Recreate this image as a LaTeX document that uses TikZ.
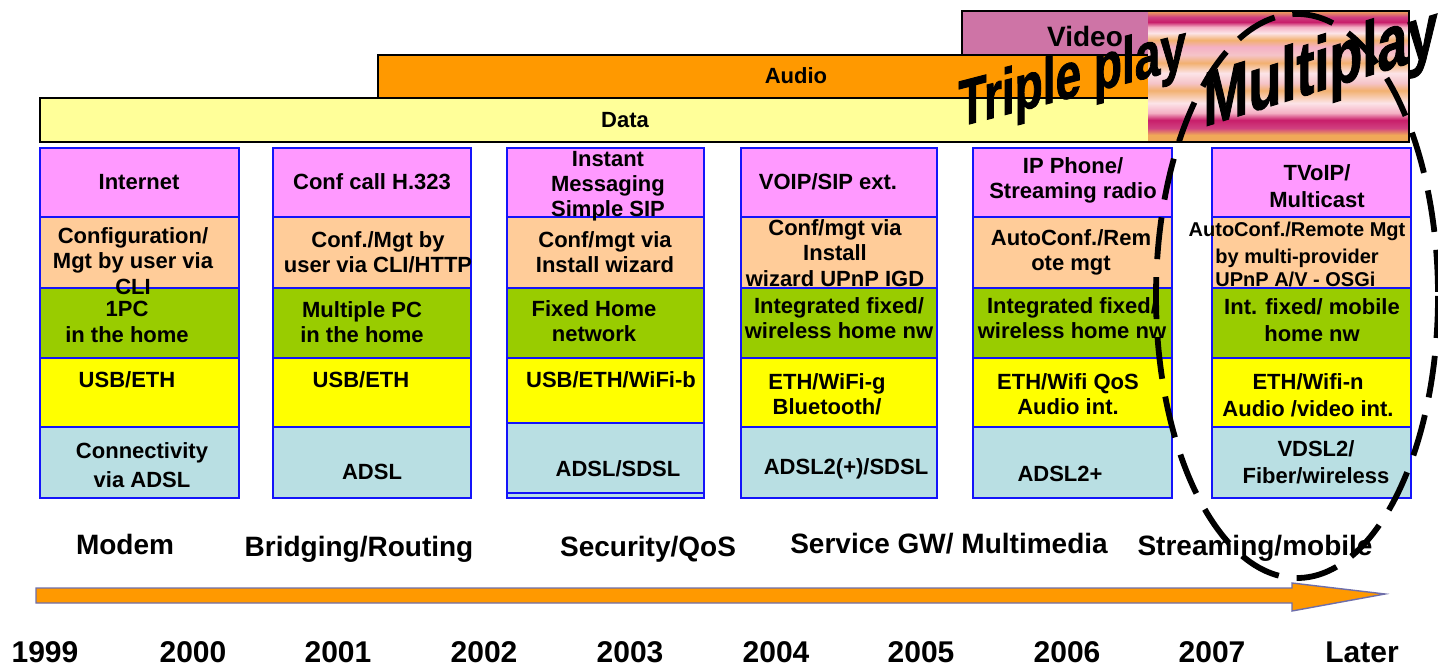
\documentclass[tikz,border=0pt]{standalone}
\usepackage{fontspec}
\setmainfont{Liberation Sans}
\newfontfamily\wordartfont{Liberation Sans}[BoldFeatures={FakeBold=1.6}]

% cell and band colours
\definecolor{cellpink}{RGB}{255,153,255}
\definecolor{cellpeach}{RGB}{255,204,153}
\definecolor{cellgreen}{RGB}{153,204,0}
\definecolor{cellyellow}{RGB}{255,255,0}
\definecolor{cellblue}{RGB}{185,223,227}
\definecolor{cellline}{RGB}{20,20,250}
\definecolor{datafill}{RGB}{255,255,153}
\definecolor{audiofill}{RGB}{255,153,0}
\definecolor{videofill}{RGB}{206,116,166}
\definecolor{arrowfill}{RGB}{255,153,0}
\definecolor{arrowline}{RGB}{110,110,170}
% striped multiplay band
\definecolor{mpO}{RGB}{240,168,88}
\definecolor{mpD}{RGB}{208,64,128}
\definecolor{mpM}{RGB}{200,30,106}
\definecolor{mpP}{RGB}{244,176,196}
\definecolor{mpW}{RGB}{252,228,232}
\definecolor{mpOt}{RGB}{242,176,112}
\definecolor{mpPt}{RGB}{245,196,200}

\pgfdeclareverticalshading{mpstripes}{100bp}{%
  color(0bp)=(mpO); color(25bp)=(mpO); color(27.7bp)=(mpO);
  color(30.3bp)=(mpD); color(33.4bp)=(mpM); color(36.1bp)=(mpP);
  color(39.9bp)=(mpW); color(44.7bp)=(mpOt); color(47.5bp)=(mpPt);
  color(51.3bp)=(mpW); color(55.2bp)=(mpOt); color(58.2bp)=(mpPt);
  color(61.3bp)=(mpP); color(63.9bp)=(mpOt); color(66.6bp)=(mpW);
  color(68.9bp)=(mpP); color(70.8bp)=(mpM); color(72.7bp)=(mpD);
  color(75bp)=(mpO); color(100bp)=(mpO)}

\begin{document}
\begin{tikzpicture}[x=0.5pt,y=-0.5pt,
  cell/.style={draw=cellline,line width=1pt},
  bar/.style={draw=black,line width=1pt},
  txt/.style={font=\fontsize{11}{12.6}\selectfont\bfseries,align=center,inner sep=0pt},
  smalltxt/.style={font=\fontsize{10}{11.6}\selectfont\bfseries,inner sep=0pt},
  bartxt/.style={font=\fontsize{11}{13}\selectfont\bfseries,inner sep=0pt},
  stagetxt/.style={font=\fontsize{14}{16}\selectfont\bfseries,inner sep=0pt,anchor=base},
  yeartxt/.style={font=\fontsize{15}{17}\selectfont\bfseries,inner sep=0pt,anchor=base},
  wordart/.style={inner sep=0pt,anchor=base west,transform shape},
  ringdash/.style={draw=black,line width=2.9pt,dash pattern=on 21pt off 9pt}]
\useasboundingbox (0,0) rectangle (1438,668);

% service bands
\draw[bar,fill=videofill] (962,11) rectangle (1180,55);
\draw[bar,fill=audiofill] (378,55) rectangle (1180,98);
\draw[bar,fill=datafill] (40,98) rectangle (1180,142);
\shade[shading=mpstripes] (1148,11) rectangle (1409,142);
\draw[line width=0.8pt] (1148,11) -- (1409,11) -- (1409,142) -- (1148,142);
\node[font=\fontsize{14}{16}\selectfont\bfseries,inner sep=0pt] (video) at (1085,36) {Video};
\node[bartxt] (audio) at (796,76) {Audio};
\node[bartxt] (data) at (625,120) {Data};

% layer stacks, one per period
\foreach \l/\r in {40/239,273/471,741/937,973/1172,1212/1411}{
  \draw[cell,fill=cellpink] (\l,148) rectangle (\r,217);
  \draw[cell,fill=cellpeach] (\l,217) rectangle (\r,288);
  \draw[cell,fill=cellgreen] (\l,288) rectangle (\r,358);
  \draw[cell,fill=cellyellow] (\l,358) rectangle (\r,427);
  \draw[cell,fill=cellblue] (\l,427) rectangle (\r,498);
}
\draw[cell,fill=cellpink] (507,148) rectangle (704,217);
\draw[cell,fill=cellpeach] (507,217) rectangle (704,288);
\draw[cell,fill=cellgreen] (507,288) rectangle (704,358);
\draw[cell,fill=cellyellow] (507,358) rectangle (704,423);
\draw[cell,fill=cellblue] (507,423) rectangle (704,498);
\draw[cell] (507,493) -- (704,493);

% column 1
\node[txt] (c1a) at (139,182) {Internet};
\node[txt] (c1b) at (133,261) {Configuration/\\Mgt by user via\\CLI};
\node[txt] (c1c) at (127,322) {1PC\\in the home};
\node[txt,font=\fontsize{11}{14.5}\selectfont\bfseries] (c1e) at (142,465) {Connectivity\\via ADSL};
\node[txt] (c1d) at (127,380) {USB/ETH};
% column 2
\node[txt] (c2a) at (372,182) {Conf call H.323};
\node[txt] (c2b) at (378,252) {Conf./Mgt by\\user via CLI/HTTP};
\node[txt] (c2c) at (362,322) {Multiple PC\\in the home};
\node[txt] (c2d) at (361,380) {USB/ETH};
\node[txt] (c2e) at (372,472) {ADSL};
% column 3
\node[txt] (c3a) at (608,186) {Instant\\Messaging\\Simple SIP};
\node[txt] (c3b) at (605,252) {Conf/mgt via\\Install wizard};
\node[txt] (c3c) at (594,321) {Fixed Home\\network};
\node[txt] (c3d) at (611,380) {USB/ETH/WiFi-b};
\node[txt] (c3e) at (618,469) {ADSL/SDSL};
% column 4
\node[txt] (c4a) at (828,182) {VOIP/SIP ext.};
\node[txt] (c4b) at (835,253) {Conf/mgt via\\Install\\wizard UPnP IGD};
\node[txt] (c4c) at (839,318) {Integrated fixed/\\wireless home nw};
\node[txt] (c4d) at (827,394) {ETH/WiFi-g\\Bluetooth/};
\node[txt] (c4e) at (846,469) {ADSL2(+)/SDSL};
% column 5
\node[txt] (c5a) at (1073,180) {IP Phone/\\Streaming radio};
\node[txt] (c5b) at (1071,252) {AutoConf./Rem\\ote mgt};
\node[txt] (c5c) at (1072,318) {Integrated fixed/\\wireless home nw};
\node[txt] (c5d) at (1068,394) {ETH/Wifi QoS\\Audio int.};
\node[txt] (c5e) at (1060,474) {ADSL2+};
% column 6
\node[txt,font=\fontsize{11}{13.5}\selectfont\bfseries] (c6a) at (1317,186) {TVoIP/\\Multicast};
\node[smalltxt] (c6b) at (1297,231) {AutoConf./Remote Mgt};
\node[smalltxt,align=left,anchor=west] (c6bb) at (1215,268) {by multi-provider\\UPnP A/V - OSGi};
\node[txt,font=\fontsize{11}{13.5}\selectfont\bfseries] (c6c) at (1312,320) {Int. fixed/ mobile\\home nw};
\node[txt,font=\fontsize{11}{13.5}\selectfont\bfseries] (c6d) at (1308,395) {ETH/Wifi-n\\Audio /video int.};
\node[txt,font=\fontsize{11}{13.5}\selectfont\bfseries] (c6e) at (1316,462) {VDSL2/\\Fiber/wireless};

% gateway function per period
\node[stagetxt] (s1) at (125,554) {Modem};
\node[stagetxt] (s2) at (359,556) {Bridging/Routing};
\node[stagetxt] (s3) at (648,556) {Security/QoS};
\node[stagetxt] (s4) at (949,553) {Service GW/ Multimedia};
\node[stagetxt] (s5) at (1255,555) {Streaming/mobile};

% time arrow
\draw[draw=arrowline,fill=arrowfill,line width=0.7pt,line join=miter]
  (36,588) -- (1292,588) -- (1292,583) -- (1385,594) -- (1292,611)
  -- (1292,603) -- (36,603) -- cycle;

% years
\node[yeartxt] (y1999) at (45,662) {1999};
\node[yeartxt] (y2000) at (193,662) {2000};
\node[yeartxt] (y2001) at (338,662) {2001};
\node[yeartxt] (y2002) at (484,662) {2002};
\node[yeartxt] (y2003) at (630,662) {2003};
\node[yeartxt] (y2004) at (776,662) {2004};
\node[yeartxt] (y2005) at (921,662) {2005};
\node[yeartxt] (y2006) at (1067,662) {2006};
\node[yeartxt] (y2007) at (1212,662) {2007};
\node[yeartxt] (ylater) at (1362,662) {Later};

% multiplay ring
\draw[ringdash] (1297,296) ellipse [x radius=141, y radius=282];

% slanted headlines
\node[wordart,yslant=0.26,font=\fontsize{23}{23}\selectfont\wordartfont\bfseries]
  (triple) at (958,127) {\scalebox{1}[1.42]{Triple play}};
\node[wordart,yslant=0.31,font=\fontsize{27}{27}\selectfont\wordartfont\bfseries]
  (multi) at (1203,127) {\scalebox{1}[1.42]{Multiplay}};
\end{tikzpicture}
\end{document}
